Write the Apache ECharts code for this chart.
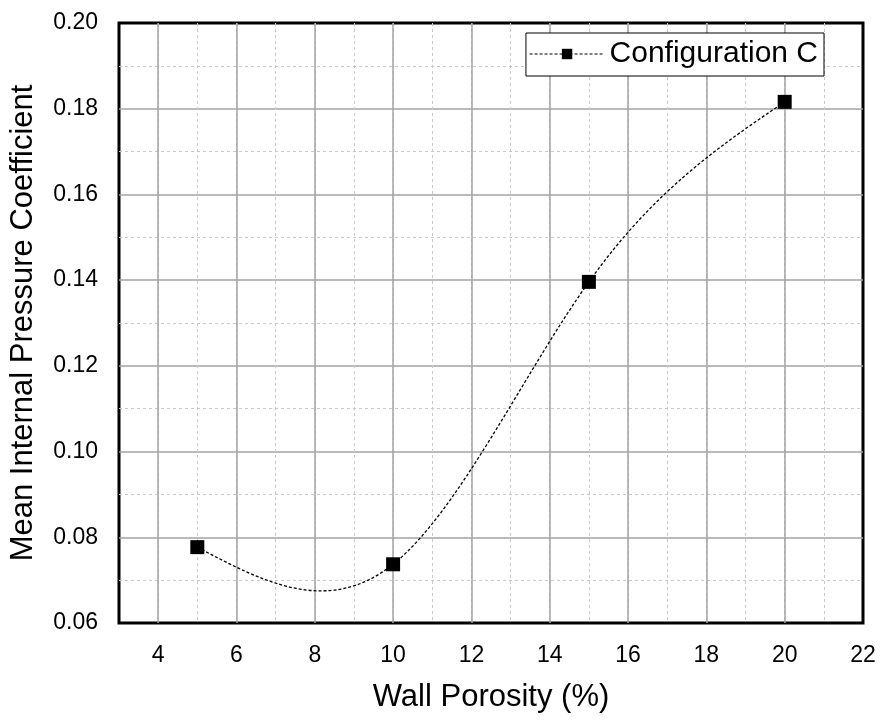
<!DOCTYPE html>
<html>
<head>
<meta charset="utf-8">
<script src="https://cdn.jsdelivr.net/npm/echarts@6/dist/echarts.min.js"></script>
<style>
  html, body { margin: 0; padding: 0; background: #fff; }
  #chart { width: 880px; height: 721px; }
</style>
</head>
<body>
<div id="chart"></div>
<script>
// Data
var porosity = [5, 10, 15, 20];
var pressureCoef = [0.0777, 0.0737, 0.1396, 0.1816];
var seriesName = "Configuration C";
// Major vertical grid lines (x axis ticks are every 1, labelled every 2)
var majorXTicks = [4, 6, 8, 10, 12, 14, 16, 18, 20];

var FONT = "Liberation Sans, Arial, sans-serif";
var MAJOR = "#a3a3a3";
var MINOR = "#c8c8c8";

// natural cubic spline through pixel points -> bezier segments
function splineSegments(pts) {
  var n = pts.length, h = [], M = new Array(n).fill(0);
  for (var i = 0; i < n - 1; i++) h.push(pts[i + 1][0] - pts[i][0]);
  if (n > 2) {
    var a = [], b = [], c = [], d = [];
    for (var i = 1; i < n - 1; i++) {
      a.push(h[i - 1]); b.push(2 * (h[i - 1] + h[i])); c.push(h[i]);
      d.push(6 * ((pts[i + 1][1] - pts[i][1]) / h[i] - (pts[i][1] - pts[i - 1][1]) / h[i - 1]));
    }
    var m = b.length;
    for (var i = 1; i < m; i++) {
      var w = a[i] / b[i - 1];
      b[i] -= w * c[i - 1]; d[i] -= w * d[i - 1];
    }
    var sol = new Array(m);
    sol[m - 1] = d[m - 1] / b[m - 1];
    for (var i = m - 2; i >= 0; i--) sol[i] = (d[i] - c[i] * sol[i + 1]) / b[i];
    for (var i = 0; i < m; i++) M[i + 1] = sol[i];
  }
  var segs = [];
  for (var i = 0; i < n - 1; i++) {
    var p0 = pts[i], p1 = pts[i + 1], hh = h[i];
    var s = (p1[1] - p0[1]) / hh;
    var d0 = s - hh * (2 * M[i] + M[i + 1]) / 6;
    var d1 = s + hh * (M[i] + 2 * M[i + 1]) / 6;
    segs.push({
      x1: p0[0], y1: p0[1], x2: p1[0], y2: p1[1],
      cpx1: p0[0] + hh / 3, cpy1: p0[1] + d0 * hh / 3,
      cpx2: p1[0] - hh / 3, cpy2: p1[1] - d1 * hh / 3
    });
  }
  return segs;
}

var chart = echarts.init(document.getElementById("chart"), null, { renderer: "canvas" });

chart.setOption({
  animation: false,
  backgroundColor: "#fff",
  textStyle: { fontFamily: FONT },
  grid: {
    left: 119, right: 17, top: 23, bottom: 98,
    show: true, borderColor: "#000", borderWidth: 3, backgroundColor: "transparent"
  },
  legend: {
    right: 56, top: 33,
    padding: [6, 6, 7, 3],
    itemWidth: 75, itemHeight: 13, itemGap: 10,
    backgroundColor: "#fff", borderColor: "#000", borderWidth: 1, borderRadius: 0,
    textStyle: { fontFamily: FONT, fontSize: 30, color: "#000" },
    data: [{
      name: seriesName,
      lineStyle: { color: "#000", width: 1.2, type: [3, 2], opacity: 1 }
    }]
  },
  xAxis: {
    type: "value", min: 3, max: 22, interval: 1,
    name: "Wall Porosity (%)", nameLocation: "middle", nameGap: 59,
    nameTextStyle: { fontFamily: FONT, fontSize: 31, color: "#000" },
    axisLine: { show: false }, axisTick: { show: false },
    axisLabel: {
      fontFamily: FONT, fontSize: 23, color: "#000", margin: 21,
      formatter: function (v) { return v % 2 === 0 ? String(v) : ""; }
    },
    splitLine: {
      show: true, showMinLine: false, showMaxLine: false,
      lineStyle: { color: MINOR, type: [3, 3], width: 1 }
    }
  },
  yAxis: {
    type: "value", min: 0.06, max: 0.20, interval: 0.02,
    name: "Mean Internal Pressure Coefficient", nameLocation: "middle", nameGap: 80,
    nameTextStyle: { fontFamily: FONT, fontSize: 31, color: "#000" },
    axisLine: { show: false }, axisTick: { show: false },
    axisLabel: {
      fontFamily: FONT, fontSize: 23, color: "#000", margin: 21,
      formatter: function (v) { return v.toFixed(2); }
    },
    splitLine: {
      show: true, showMinLine: false, showMaxLine: false,
      lineStyle: { color: MAJOR, width: 1.5 }
    },
    minorTick: { show: false, splitNumber: 2 },
    minorSplitLine: { show: true, lineStyle: { color: MINOR, type: [3, 3], width: 1 } }
  },
  series: [
    {
      // helper: solid major vertical grid lines
      type: "line", data: [], silent: true, z: 1,
      markLine: {
        silent: true, symbol: ["none", "none"], animation: false, z: 1,
        label: { show: false },
        lineStyle: { color: MAJOR, type: "solid", width: 1.5 },
        data: majorXTicks.map(function (v) { return { xAxis: v }; })
      }
    },
    {
      // spline through the data points
      type: "custom", name: "spline", silent: true, z: 2,
      data: porosity.map(function (x, i) { return [x, pressureCoef[i]]; }),
      renderItem: function (params, api) {
        var i = params.dataIndex;
        if (i >= porosity.length - 1) return null;
        var pts = porosity.map(function (x, j) { return api.coord([x, pressureCoef[j]]); });
        var seg = splineSegments(pts)[i];
        return {
          type: "bezierCurve",
          shape: seg,
          style: { stroke: "#000", fill: null, lineWidth: 1.3, lineDash: [3, 2] }
        };
      }
    },
    {
      name: seriesName, type: "line", z: 3,
      data: porosity.map(function (x, i) { return [x, pressureCoef[i]]; }),
      symbol: "rect", symbolSize: 14,
      itemStyle: { color: "#000" },
      lineStyle: { opacity: 0 }
    }
  ]
});
</script>
</body>
</html>
